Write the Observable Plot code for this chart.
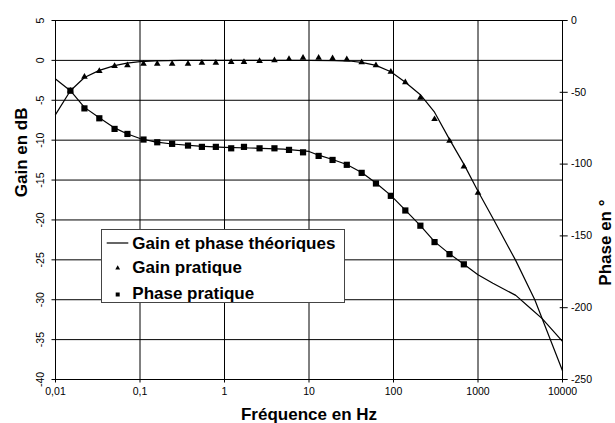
<!DOCTYPE html>
<html><head><meta charset="utf-8">
<script src="https://cdn.jsdelivr.net/npm/d3@7"></script>
<script src="https://cdn.jsdelivr.net/npm/@observablehq/plot@0.6"></script>
<style>
body{margin:0;background:#fff}
svg{font-family:"Liberation Sans",Arial,sans-serif}
</style>
</head><body><div id="chart"></div>
<script>
// Measured frequencies (Hz)
const freqs = [0.015, 0.022, 0.033, 0.05, 0.071, 0.11, 0.16, 0.24, 0.37, 0.54, 0.79, 1.2, 1.7, 2.6, 3.9, 5.8, 8.5, 13, 19, 28, 42, 62, 93, 138, 208, 306, 460, 680, 1000];
// Gain pratique (dB), one per frequency
const gainPratique = [-3.8, -2.05, -1.35, -0.7, -0.63, -0.43, -0.43, -0.43, -0.43, -0.3, -0.3, -0.21, -0.21, -0.09, 0, 0.16, 0.33, 0.33, 0.25, 0.13, -0.25, -0.63, -1.43, -2.75, -4.68, -7.37, -10.1, -13.3, -16.6];
// Phase pratique (°), first 28 frequencies
const phasePratique = [-48.9, -61.2, -68.1, -75.5, -79.0, -82.9, -84.8, -85.9, -87.1, -88.0, -88.0, -89.0, -88.0, -89.0, -89.0, -90.1, -91.8, -94.3, -97.1, -100.5, -106.1, -113.5, -122.1, -132.3, -142.9, -154.3, -162.7, -169.8];
// Theoretical gain
const theoGainFreq = [0.01, 0.015, 0.022, 0.033, 0.05, 0.07, 0.1, 0.15, 0.3, 1, 10, 20, 30, 42, 62, 93, 138, 208, 306, 460, 680, 1000, 1540, 2800, 4700, 10000];
const theoGain = [-6.8, -3.8, -2.15, -1.25, -0.65, -0.35, -0.15, -0.05, 0, 0, 0, -0.02, -0.08, -0.25, -0.63, -1.43, -2.75, -4.3, -6.5, -9.9, -13.0, -16.4, -20.0, -25.1, -30.0, -38.9];
// Theoretical phase
const theoPhaseFreq = [0.01, 0.015, 0.022, 0.033, 0.05, 0.07, 0.1, 0.15, 0.24, 0.5, 1, 2, 5, 10, 13, 19, 28, 42, 62, 93, 138, 208, 306, 460, 680, 1000, 1500, 2800, 4200, 5750, 10000];
const theoPhase = [-40.7, -48.9, -60.5, -67.8, -74.8, -78.9, -82.2, -84.5, -86, -87.5, -88.3, -88.8, -89.6, -91.2, -93.8, -96.8, -100.3, -105.8, -113.2, -121.8, -132, -142.8, -154, -162.5, -169.8, -177, -183, -191.4, -200.6, -207.6, -223.4];

const xTicks = [0.01, 0.1, 1, 10, 100, 1000, 10000];
const xTickLabels = ["0,01", "0,1", "1", "10", "100", "1000", "10000"];
const gainTicks = [5, 0, -5, -10, -15, -20, -25, -30, -35, -40];
const phaseTicks = [0, -50, -100, -150, -200, -250];
const legendLabels = ["Gain et phase théoriques", "Gain pratique", "Phase pratique"];

const gainDomain = [-40, 5];
const phaseDomain = [-250, 0];
const toG = p => gainDomain[0] + (p - phaseDomain[0]) * (gainDomain[1] - gainDomain[0]) / (phaseDomain[1] - phaseDomain[0]);
const toP = g => phaseDomain[0] + (g - gainDomain[0]) * (phaseDomain[1] - phaseDomain[0]) / (gainDomain[1] - gainDomain[0]);

const gainData = freqs.map((f, i) => ({f, v: gainPratique[i]}));
const phaseData = phasePratique.map((v, i) => ({f: freqs[i], v}));
const theoG = theoGainFreq.map((f, i) => ({f, v: theoGain[i]}));
const theoP = theoPhaseFreq.map((f, i) => ({f, v: theoPhase[i]}));

const FONT = '"Liberation Sans", Arial, sans-serif';

const plot = Plot.plot({
  width: 615, height: 423,
  marginLeft: 55, marginRight: 53, marginTop: 20, marginBottom: 44,
  style: {fontFamily: FONT, fontSize: "10.5px", color: "#000", background: "#fff", overflow: "visible"},
  x: {type: "log", domain: [0.01, 10000]},
  y: {domain: gainDomain},
  marks: [
    Plot.gridY(gainTicks, {stroke: "#000", strokeOpacity: 1}),
    Plot.gridX(xTicks, {stroke: "#000", strokeOpacity: 1}),
    Plot.frame({stroke: "#000"}),
    Plot.line(theoG, {x: "f", y: "v", stroke: "#000", strokeWidth: 1.2}),
    Plot.line(theoP, {x: "f", y: d => toG(d.v), stroke: "#000", strokeWidth: 1.2}),
    Plot.dot(gainData, {x: "f", y: "v", symbol: "triangle", r: 2.45, fill: "#000"}),
    Plot.dot(phaseData, {x: "f", y: d => toG(d.v), symbol: "square", r: 3.5, fill: "#000"}),
    Plot.axisX(xTicks, {anchor: "bottom", tickSize: 3.5, tickPadding: 5, tickFormat: d => xTickLabels[xTicks.indexOf(d)], label: null}),
    Plot.axisY(gainTicks, {anchor: "left", tickSize: 3.5, tickFormat: () => "", label: null}),
    Plot.text(gainTicks, {y: d => d, text: d => String(d), frameAnchor: "left", rotate: -90, dx: -11.5, lineAnchor: "bottom", textAnchor: "middle", fontSize: 10.5}),
    Plot.axisY(phaseTicks.map(toG), {anchor: "right", tickSize: 8, dx: -3.3, tickFormat: () => "", label: null}),
    Plot.axisY(phaseTicks.map(toG), {anchor: "right", tickSize: 0, tickPadding: 8.5, tickFormat: g => String(Math.round(toP(g))), label: null}),
    Plot.text(["Fréquence en Hz"], {frameAnchor: "bottom", dy: 40, lineAnchor: "bottom", fontWeight: "bold", fontSize: 17}),
    Plot.text(["Gain en dB"], {frameAnchor: "left", rotate: -90, dx: -28.3, dy: -2.8, lineAnchor: "bottom", fontWeight: "bold", fontSize: 17}),
    Plot.text(["Phase en °"], {frameAnchor: "right", rotate: -90, dx: 48.5, dy: -0.5, lineAnchor: "bottom", fontWeight: "bold", fontSize: 17})
  ]
});

// Legend
const svg = d3.select(plot);
const lg = svg.append("g").attr("font-family", FONT).attr("font-weight", "bold").attr("font-size", 17)
  .attr("fill", "#000").attr("text-anchor", "start");
lg.append("rect").attr("x", 101.5).attr("y", 229.5).attr("width", 243).attr("height", 73)
  .attr("fill", "#fff").attr("stroke", "#444").attr("stroke-width", 1);
lg.append("line").attr("x1", 106.7).attr("x2", 128.3).attr("y1", 243).attr("y2", 243)
  .attr("stroke", "#000").attr("stroke-width", 1.2);
lg.append("path").attr("d", d3.symbol(d3.symbolTriangle, 10)()).attr("transform", "translate(117.7,268)").attr("fill", "#000");
lg.append("path").attr("d", d3.symbol(d3.symbolSquare, 16)()).attr("transform", "translate(117.7,294.5)").attr("fill", "#000");
const baselines = [249, 273, 299];
legendLabels.forEach((t, i) => {
  lg.append("text").attr("x", 132.3).attr("y", baselines[i]).attr("text-anchor", "start").text(t);
});

document.getElementById("chart").append(plot);
</script>
</body></html>
